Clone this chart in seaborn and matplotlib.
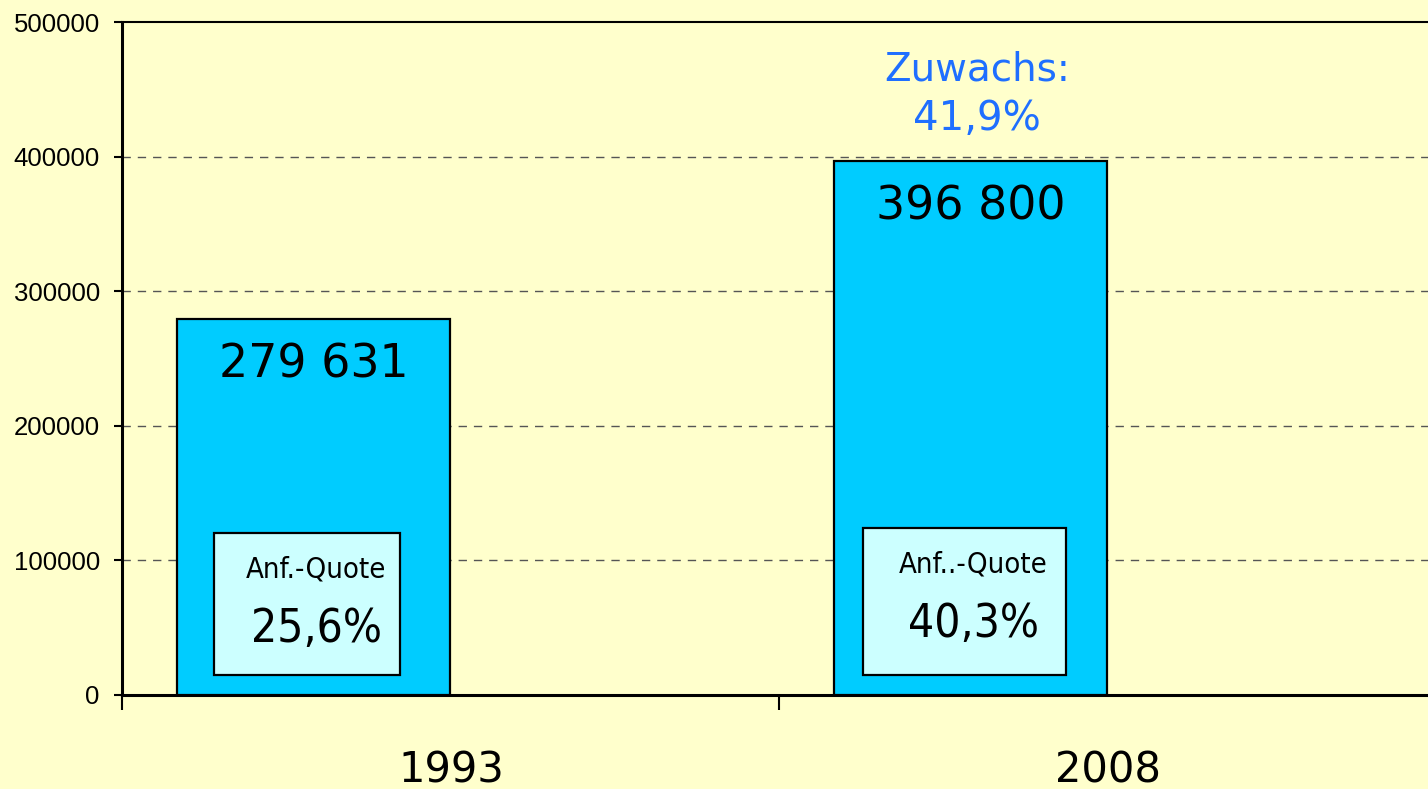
import matplotlib
matplotlib.use("Agg")
import matplotlib.pyplot as plt
from matplotlib import font_manager
from matplotlib.patches import Rectangle
import seaborn as sns
import pandas as pd

# ---- data ----
years = ["1993", "2008"]
counts = [279631, 396800]
quota_labels = ["Anf.-Quote", "Anf..-Quote"]
quotas = [25.6, 40.3]
growth_label = "Zuwachs:"

y_ticks = [0, 100000, 200000, 300000, 400000, 500000]

df = pd.DataFrame({"year": years, "count": counts})

sns.set_style("white")
names = {f.name for f in font_manager.fontManager.ttflist}
if "Liberation Sans Narrow" in names:
    narrow = dict(family="Liberation Sans Narrow")
else:
    narrow = dict(family="DejaVu Sans", stretch="condensed")
plt.rcParams["font.family"] = ["DejaVu Sans"]
plt.rcParams["text.color"] = "black"
plt.rcParams["xtick.color"] = "black"
plt.rcParams["ytick.color"] = "black"

BG = "#FFFFCC"
fig = plt.figure(figsize=(14.28, 7.89), dpi=100, facecolor=BG)
ax = fig.add_axes([122 / 1428, 94 / 789, 1314 / 1428, 673 / 789])
ax.set_facecolor(BG)

sns.barplot(data=df, x="year", y="count", ax=ax, width=0.416,
            color="#00CCFF", saturation=1, edgecolor="black", linewidth=1.6,
            zorder=3)

ax.set_xlim(-0.2914, 1.7086)
ax.set_ylim(0, 500000)
ax.set_yticks(y_ticks)
ax.set_yticklabels([str(v) for v in y_ticks], family="Liberation Sans", fontsize=18.5)
ax.tick_params(axis="y", left=True, direction="out", length=6, width=1.5, pad=10,
               colors="black")

# category separators as major ticks, labels on minor ticks
ax.set_xticks([-0.2914, 0.7086])
ax.set_xticklabels(["", ""])
ax.tick_params(axis="x", which="major", bottom=True, direction="out", length=11,
               width=1.5, colors="black")
ax.set_xticks([0.2094, 1.2094], minor=True)
ax.set_xticklabels(years, minor=True, fontsize=30, color="black")
ax.tick_params(axis="x", which="minor", bottom=True, length=0, pad=39)
for lab in ax.get_xticklabels(minor=True):
    lab.set_verticalalignment("top")
ax.set_xlabel("")
ax.set_ylabel("")

# grid
for v in y_ticks[1:-1]:
    ax.axhline(v, color="#555555", lw=1.0, ls=(0, (6, 5)), zorder=1)

for side in ["left", "bottom"]:
    ax.spines[side].set_color("black")
    ax.spines[side].set_linewidth(2.2)
ax.spines["top"].set_color("black")
ax.spines["top"].set_linewidth(1.5)
ax.spines["right"].set_visible(False)

# value labels
for i, c in enumerate(counts):
    txt = f"{c:,}".replace(",", " ")
    ax.annotate(txt, xy=(i, c), xytext=(0, -17), textcoords="offset points",
                ha="center", va="top", fontsize=33, color="black", zorder=5)

# quota boxes
box_specs = [(-0.1514, 0.1317, 14860, 120360), (0.8365, 1.1454, 14860, 124070)]
for i, (x0, x1, y0, y1) in enumerate(box_specs):
    ax.add_patch(Rectangle((x0, y0), x1 - x0, y1 - y0, facecolor="#CCFFFF",
                           edgecolor="black", lw=1.6, zorder=4))
    xc = i + 0.004
    ax.text(xc, y1 - 33000, quota_labels[i], ha="center", va="baseline",
            fontsize=21, color="black", zorder=5, **narrow)
    ax.text(xc, y1 - 81000, f"{quotas[i]:.1f}%".replace(".", ","), ha="center",
            va="baseline", fontsize=33, color="black", zorder=5, **narrow)

# growth
growth = (counts[1] / counts[0] - 1) * 100
ax.text(1.01, 456900, growth_label, ha="center", va="baseline", fontsize=28,
        color="#1F6FFF", zorder=5)
ax.text(1.01, 419760, f"{growth:.1f}%".replace(".", ","), ha="center",
        va="baseline", fontsize=29, color="#1F6FFF", zorder=5)

fig.savefig("out.png", dpi=100, facecolor=BG)
